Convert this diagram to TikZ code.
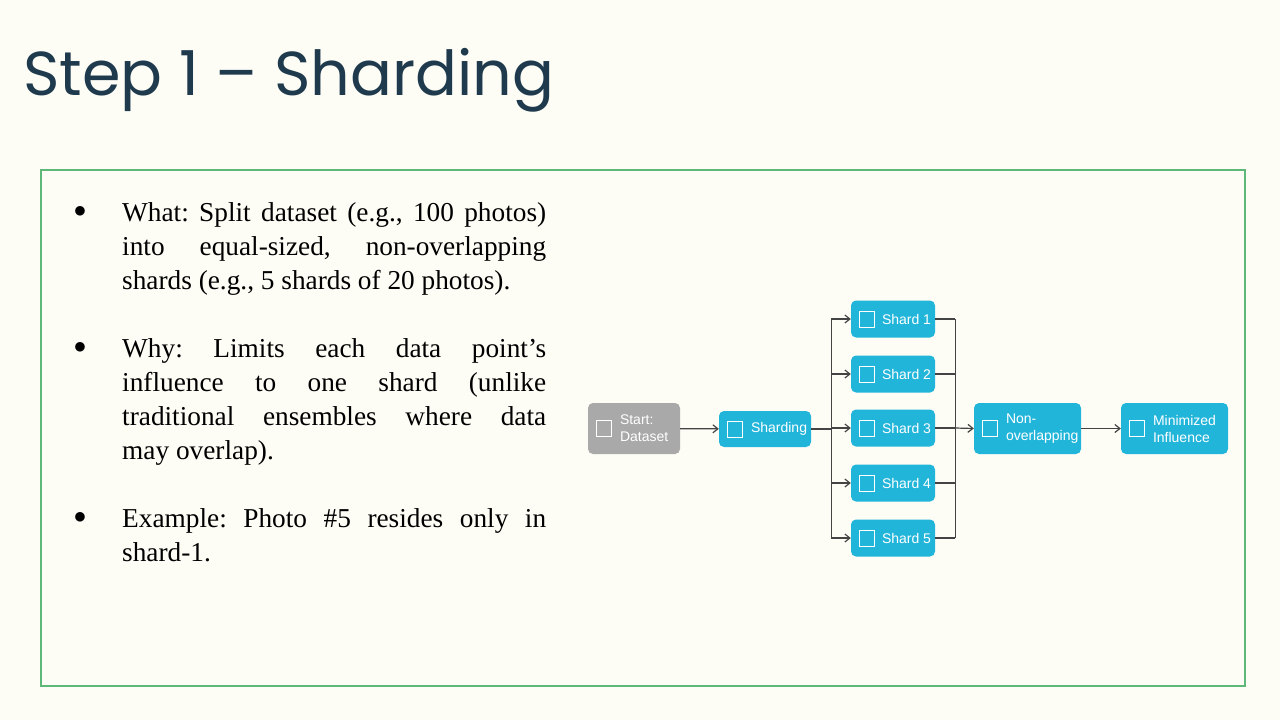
\documentclass[tikz,border=0pt]{standalone}
\usepackage{fontspec}
\setmainfont{Liberation Serif}
\newfontfamily\nodefont{Liberation Sans}
\newfontfamily\titlefont{Poppins}
\usetikzlibrary{arrows.meta}
\definecolor{bg}{HTML}{FDFDF6}
\definecolor{blu}{HTML}{22B5DA}
\definecolor{gry}{HTML}{A9A9A9}
\definecolor{ttl}{HTML}{1E3A4C}
\definecolor{frm}{HTML}{5DB87A}
\definecolor{ln}{HTML}{444444}
\begin{document}
\frenchspacing
\begin{tikzpicture}[x=1pt,y=-1pt,
  box/.style={fill=blu,rounded corners=5pt,inner sep=0pt},
  lab/.style={anchor=west,text=white,font=\nodefont\fontsize{14}{17}\selectfont,align=left,inner sep=0pt},
  con/.style={draw=ln,line width=1.2pt},
  arr/.style={con,-{Straight Barb[length=5pt,width=8pt]}}]
\fill[bg] (0,0) rectangle (1280,720);
\useasboundingbox (0,0) rectangle (1280,720);
\node[anchor=west,text=ttl,font=\titlefont\fontsize{62}{64}\selectfont] (title) at (20,80) {Step 1 – Sharding};
\draw[frm,line width=1.2pt] (41,170) rectangle (1245,686);
\tikzset{bul/.style={anchor=north west,text width=424pt,align=justify,inner sep=0pt,font=\fontsize{27.3}{34}\selectfont}}
\node[bul] (b1) at (122,202) {What: Split dataset (e.g., 100 photos)\linebreak into equal-sized, non-overlapping\linebreak shards (e.g., 5 shards of 20 photos).};
\node[bul] (b2) at (122,338) {Why: Limits each data point's\linebreak influence to one shard (unlike\linebreak traditional ensembles where data\linebreak may overlap).};
\node[bul] (b3) at (122,508) {Example: Photo \#5 resides only in\linebreak shard-1.};
\foreach \y/\n in {212/d1,348/d2,518/d3} \node[font=\fontsize{26}{26}\selectfont] (\n) at (80,\y) {$\bullet$};
% nodes
\node[box,fill=gry,minimum width=92pt,minimum height=51pt] (start) at (634,428.5) {};
\node[lab] (tstart) at ([xshift=32pt]start.west) {Start:\\Dataset};
\node[box,minimum width=92pt,minimum height=36pt] (shd) at (765,429) {};
\node[lab] (tshd) at ([xshift=32pt]shd.west) {Sharding};
\foreach \i/\y in {1/319,2/374,3/428,4/483,5/538} {
  \node[box,minimum width=84pt,minimum height=37pt] (s\i) at (893,\y) {};
  \node[lab] (ts\i) at ([xshift=31pt]s\i.west) {Shard \i};
}
\node[box,minimum width=107pt,minimum height=51pt] (non) at (1027.5,428.5) {};
\node[lab] (tnon) at ([xshift=32pt]non.west) {Non-\\overlapping};
\node[box,minimum width=107pt,minimum height=51pt] (min) at (1174.5,428.5) {};
\node[lab] (tmin) at ([xshift=32pt]min.west) {Minimized\\Influence};
% simple icons
\foreach \n in {start,shd,s1,s2,s3,s4,s5,non,min}
  \draw[white,line width=0.8pt] ([xshift=9pt,yshift=-8pt]\n.west) rectangle ([xshift=24pt,yshift=8pt]\n.west);
% connectors
\draw[arr] (start) -- (shd);
\coordinate (sp) at ([xshift=20pt]shd.east);
\coordinate (mg) at ([xshift=20pt]s3.east);
\draw[con] (shd.east) -- (sp);
\draw[con] (sp |- s1) -- (sp |- s5);
\foreach \i in {1,...,5} {
  \draw[arr] (sp |- s\i) -- (s\i.west);
  \draw[con] (s\i.east) -- (mg |- s\i);
}
\draw[con] (mg |- s1) -- (mg |- s5);
\draw[arr] (mg) -- (non.west);
\draw[arr] (non) -- (min);
\end{tikzpicture}
\end{document}
